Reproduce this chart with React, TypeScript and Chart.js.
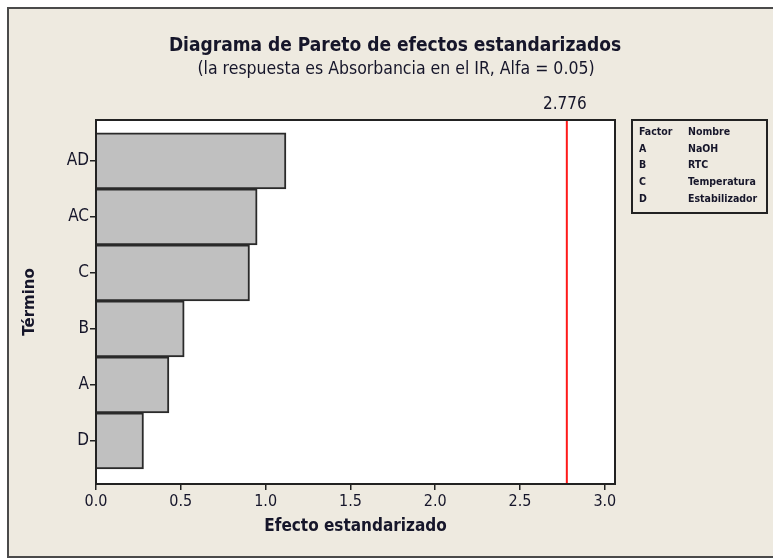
import React, { useEffect, useRef } from "react";
import { Chart, registerables } from "chart.js";

Chart.register(...registerables);

const terms = ["AD", "AC", "C", "B", "A", "D"];
const effects = [1.12, 0.95, 0.905, 0.52, 0.43, 0.28];
const xTickValues = [0, 0.5, 1, 1.5, 2, 2.5, 3];
const criticalValue = 2.776;
const criticalLabel = "2.776";
const titleText = "Diagrama de Pareto de efectos estandarizados";
const subtitleText = "(la respuesta es Absorbancia en el IR, Alfa = 0.05)";
const legendHeader = ["Factor", "Nombre"];
const legendFactors = ["A", "B", "C", "D"];
const legendNames = ["NaOH", "RTC", "Temperatura", "Estabilizador"];

const FONT = "'DejaVu Sans Condensed', 'DejaVu Sans', sans-serif";
const TXT = "#16162a";
const LINE = "#222";

const overlayPlugin = {
  id: "overlayPlugin",
  beforeDraw(chart: any) {
    const { ctx, chartArea: a } = chart;
    ctx.save();
    ctx.fillStyle = "#ffffff";
    ctx.fillRect(a.left, a.top, a.right - a.left, a.bottom - a.top);
    ctx.restore();
  },
  afterDraw(chart: any) {
    const { ctx, chartArea: a } = chart;
    const xs = chart.scales.x;
    ctx.save();
    // titles
    ctx.fillStyle = TXT;
    ctx.textAlign = "center";
    ctx.textBaseline = "middle";
    ctx.font = `bold 19px ${FONT}`;
    ctx.fillText(titleText, 395, 46);
    ctx.font = `17.5px ${FONT}`;
    ctx.fillText(subtitleText, 396, 69);
    // critical line
    const cx = xs.getPixelForValue(criticalValue);
    ctx.strokeStyle = "#ff1a1a";
    ctx.lineWidth = 2;
    ctx.beginPath();
    ctx.moveTo(cx, a.top);
    ctx.lineTo(cx, a.bottom);
    ctx.stroke();
    // plot frame
    ctx.strokeStyle = LINE;
    ctx.lineWidth = 2;
    ctx.strokeRect(a.left, a.top, a.right - a.left, a.bottom - a.top);
    // critical label
    ctx.fillStyle = TXT;
    ctx.font = `17px ${FONT}`;
    ctx.textAlign = "center";
    ctx.fillText(criticalLabel, cx - 2, a.top - 15);
    // legend table
    const lx = 632, ly = a.top, lw = 135, lh = 93;
    ctx.strokeStyle = LINE;
    ctx.lineWidth = 2;
    ctx.strokeRect(lx, ly, lw, lh);
    ctx.font = `bold 10.5px ${FONT}`;
    ctx.textAlign = "left";
    ctx.fillText(legendHeader[0], lx + 7, ly + 12);
    ctx.fillText(legendHeader[1], lx + 56, ly + 12);
    legendFactors.forEach((f, i) => {
      const y = ly + 29 + i * 16.7;
      ctx.fillText(f, lx + 7, y);
      ctx.fillText(legendNames[i], lx + 56, y);
    });
    ctx.restore();
  },
};

export default function App() {
  const ref = useRef<HTMLCanvasElement>(null);
  useEffect(() => {
    if (!ref.current) return;
    const chart = new Chart(ref.current, {
      type: "bar",
      data: {
        datasets: [
          {
            data: effects.map((v, i) => ({ x: v, y: i })),
            backgroundColor: "#c0c0c0",
            borderColor: "#2a2a2a",
            borderWidth: 2,
            barPercentage: 1,
            categoryPercentage: 1,
          },
        ],
      },
      options: {
        indexAxis: "y",
        responsive: false,
        animation: false,
        devicePixelRatio: 1,
        layout: { padding: { top: 120, left: 21, right: 158, bottom: 21.8 } },
        plugins: {
          legend: { display: false },
          tooltip: { enabled: false },
        },
        scales: {
          x: {
            type: "linear",
            min: 0,
            max: 3.06,
            afterBuildTicks: (s: any) => {
              s.ticks = xTickValues.map((v) => ({ value: v }));
            },
            afterFit: (s: any) => {
              s.height = 53.2;
            },
            ticks: {
              color: TXT,
              font: { family: FONT, size: 16 },
              padding: 2,
              callback: (v: any) => Number(v).toFixed(1),
            },
            grid: {
              display: true,
              drawOnChartArea: false,
              drawTicks: true,
              tickLength: 6,
              color: LINE,
              lineWidth: 1.5,
            },
            border: { display: true, color: LINE, width: 2 },
            title: {
              display: true,
              text: "Efecto estandarizado",
              color: TXT,
              font: { family: FONT, size: 17, weight: "bold" },
              padding: 0,
            },
          },
          y: {
            type: "linear",
            min: -0.73,
            max: 5.77,
            reverse: true,
            offset: false,
            afterBuildTicks: (s: any) => {
              s.ticks = terms.map((_, i) => ({ value: i }));
            },
            afterFit: (s: any) => {
              s.width = 75;
            },
            ticks: {
              color: TXT,
              font: { family: FONT, size: 17 },
              padding: 1,
              callback: (_v: any, i: number) => terms[i],
            },
            grid: {
              display: true,
              offset: false,
              drawOnChartArea: false,
              drawTicks: true,
              tickLength: 6,
              color: LINE,
              lineWidth: 1.5,
            },
            border: { display: true, color: LINE, width: 2 },
            title: {
              display: true,
              text: "Término",
              color: TXT,
              font: { family: "'DejaVu Sans', sans-serif", size: 15, weight: "bold" },
              padding: 0,
            },
          },
        },
      } as any,
      plugins: [overlayPlugin],
    });
    return () => chart.destroy();
  }, []);

  return (
    <div style={{ position: "fixed", left: 0, top: 0, width: 773, height: 559, background: "#ffffff", overflow: "hidden" }}>
      <div
        style={{
          position: "absolute",
          left: 7,
          top: 7,
          width: 800,
          height: 551,
          background: "#eeeae0",
          border: "2px solid #4a4a4a",
          boxSizing: "border-box",
        }}
      />
      <canvas ref={ref} width={773} height={559} style={{ position: "absolute", left: 0, top: 0 }} />
    </div>
  );
}
